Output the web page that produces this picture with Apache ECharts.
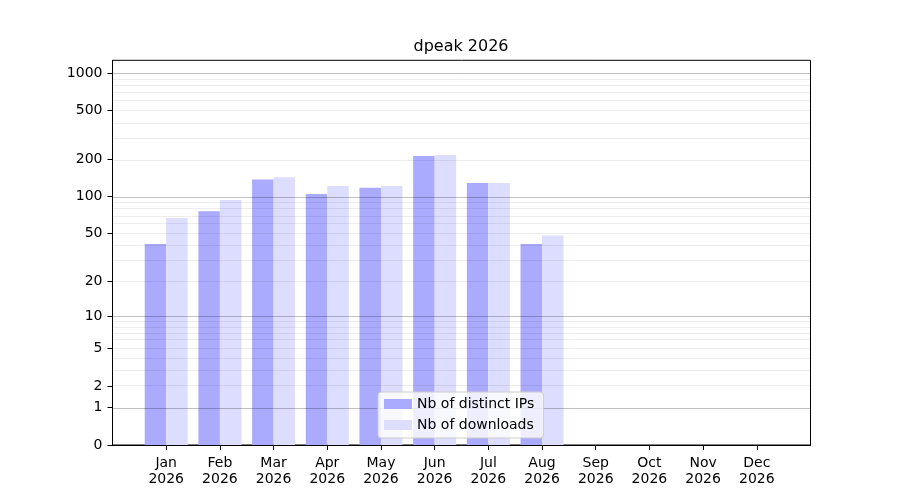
<!DOCTYPE html>
<html>
<head>
<meta charset="utf-8">
<script src="https://cdn.jsdelivr.net/npm/echarts@6/dist/echarts.min.js"></script>
<style>
html,body{margin:0;padding:0;background:#fff;}
#chart{width:900px;height:500px;}
</style>
</head>
<body>
<div id="chart"></div>
<script>
const titleText = 'dpeak 2026';
const year = '2026';
const months = ['Jan','Feb','Mar','Apr','May','Jun','Jul','Aug','Sep','Oct','Nov','Dec'];
const ips = [41, 76, 138, 105, 118, 214, 129, 41, 0, 0, 0, 0];
const downloads = [67, 94, 144, 122, 122, 218, 129, 48, 0, 0, 0, 0];
const yTicks = [0, 1, 2, 5, 10, 20, 50, 100, 200, 500, 1000];
const majorGrid = [1, 10, 100, 1000];
const minorGrid = [2,3,4,5,6,7,8,9,20,30,40,50,60,70,80,90,200,300,400,500,600,700,800,900];
const yTop = 1273;

const tf = v => Math.log10(v + 1);
const xCats = [''].concat(months.map(m => m + '\n' + year), ['']);
const pad = arr => [null].concat(arr.map(v => (v > 0 ? tf(v) : null)), [null]);
const font = 'DejaVu Sans';
const inner = (i) => i > 0 && i < xCats.length - 1;

const gridLines = majorGrid.map(v => ({yAxis: tf(v), lineStyle: {color: 'rgba(0,0,0,0.24)', width: 1, type: 'solid'}}))
  .concat(minorGrid.map(v => ({yAxis: tf(v), lineStyle: {color: 'rgba(0,0,0,0.07)', width: 1, type: 'solid'}})));

const chart = echarts.init(document.getElementById('chart'), null, {renderer: 'canvas'});
chart.setOption({
  animation: false,
  backgroundColor: '#fff',
  title: {
    text: titleText,
    left: 461,
    top: 38.5,
    padding: 0,
    textAlign: 'center',
    textStyle: {fontFamily: font, fontSize: 16, fontWeight: 'normal', color: '#000'}
  },
  grid: {
    left: 112.5, right: 89.5, top: 60.3, bottom: 55,
    show: true, borderColor: '#000', borderWidth: 1, backgroundColor: 'transparent'
  },
  legend: {
    orient: 'vertical',
    left: 378, top: 392,
    z: 10,
    padding: [5, 9, 6, 6],
    itemGap: 7,
    itemWidth: 28, itemHeight: 10,
    icon: 'rect',
    backgroundColor: 'rgba(255,255,255,0.8)',
    borderColor: '#cccccc', borderWidth: 1, borderRadius: 3,
    textStyle: {fontFamily: font, fontSize: 14, color: '#000', lineHeight: 14},
    data: ['Nb of distinct IPs', 'Nb of downloads']
  },
  xAxis: {
    type: 'category',
    data: xCats,
    boundaryGap: false,
    axisLine: {show: true, lineStyle: {color: '#000', width: 1}},
    axisTick: {show: true, length: 5, inside: false, interval: (i) => inner(i), lineStyle: {color: '#000'}},
    axisLabel: {
      interval: (i) => inner(i),
      margin: 10,
      fontFamily: font, fontSize: 14, color: '#000', lineHeight: 16
    },
    splitLine: {show: false}
  },
  yAxis: {
    type: 'value',
    min: 0,
    max: tf(yTop),
    axisLine: {show: true, lineStyle: {color: '#000', width: 1}},
    axisTick: {show: true, length: 5, customValues: yTicks.map(tf), lineStyle: {color: '#000'}},
    axisLabel: {
      customValues: yTicks.map(tf),
      formatter: (v) => String(Math.round(Math.pow(10, v) - 1)),
      margin: 10,
      fontFamily: font, fontSize: 14, color: '#000'
    },
    splitLine: {show: false}
  },
  series: [
    {
      name: 'Nb of distinct IPs',
      type: 'bar',
      data: pad(ips),
      barWidth: 21.5,
      barGap: '0%',
      itemStyle: {color: '#aaaaff'}
    },
    {
      name: 'Nb of downloads',
      type: 'bar',
      data: pad(downloads),
      barWidth: 21.5,
      barGap: '0%',
      itemStyle: {color: '#ddddff'},
      markLine: {
        silent: true,
        symbol: ['none', 'none'],
        label: {show: false},
        z: 5,
        data: gridLines
      }
    }
  ]
});
</script>
</body>
</html>
